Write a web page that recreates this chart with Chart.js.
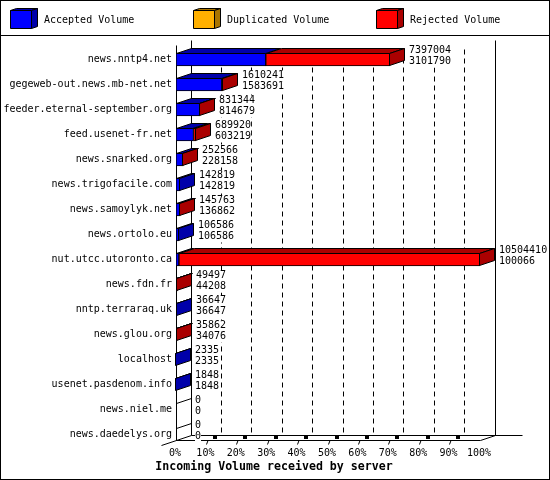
<!DOCTYPE html>
<html>
<head>
<meta charset="utf-8">
<title>Incoming Volume</title>
<script src="https://cdn.jsdelivr.net/npm/chart.js@4/dist/chart.umd.js"></script>
<style>
  html, body { margin: 0; padding: 0; background: #fff; }
  canvas { display: block; }
</style>
</head>
<body>
<canvas id="volumeChart" width="550" height="480"></canvas>
<script>
const servers = ['news.nntp4.net', 'gegeweb-out.news.mb-net.net', 'feeder.eternal-september.org', 'feed.usenet-fr.net',
    'news.snarked.org', 'news.trigofacile.com', 'news.samoylyk.net', 'news.ortolo.eu', 'nut.utcc.utoronto.ca',
    'news.fdn.fr', 'nntp.terraraq.uk', 'news.glou.org', 'localhost', 'usenet.pasdenom.info', 'news.niel.me', 'news.daedelys.org'];
const totalVolume = [7397004, 1610241, 831344, 689920, 252566, 142819, 145763, 106586, 10504410, 49497, 36647, 35862, 2335, 1848, 0, 0];
const acceptedVolume = [3101790, 1583691, 814679, 603219, 228158, 142819, 136862, 106586, 100066, 44208, 36647, 34076, 2335, 1848, 0, 0];
const duplicatedVolume = [0, 0, 0, 0, 0, 0, 0, 0, 0, 0, 0, 0, 0, 0, 0, 0];
const rejectedVolume = [4295214, 26550, 16665, 86701, 24408, 0, 8901, 0, 10404344, 5289, 0, 1786, 0, 0, 0, 0];
const xTickValues = [0, 1050441, 2100882, 3151323, 4201764, 5252205, 6302646, 7353087, 8403528, 9453969, 10504410];
const xTickLabels = ['0%', '10%', '20%', '30%', '40%', '50%', '60%', '70%', '80%', '90%', '100%'];
const legendX = [10, 193, 376];
const chartTitle = 'Incoming Volume received by server';

const DEPTH_X = 15;
const DEPTH_Y = 5;
const FLOOR_UP = 6.5; // the drawn floor sits a little above the last category band
const MONO = '"DejaVu Sans Mono", monospace';

function poly(ctx, pts, fill) {
    ctx.beginPath();
    pts.forEach((p, i) => i ? ctx.lineTo(p[0], p[1]) : ctx.moveTo(p[0], p[1]));
    ctx.closePath();
    if (fill) { ctx.fillStyle = fill; ctx.fill(); }
    ctx.stroke();
}

function line(ctx, x1, y1, x2, y2) {
    ctx.beginPath();
    ctx.moveTo(x1, y1);
    ctx.lineTo(x2, y2);
    ctx.stroke();
}

const frame3d = {
    id: 'frame3d',
    beforeDatasetsDraw(chart) {
        const ctx = chart.ctx;
        const area = chart.chartArea;
        const xs = chart.scales.x;
        const floor = area.bottom - FLOOR_UP;
        const top = area.top - FLOOR_UP;
        ctx.save();
        ctx.strokeStyle = '#000';
        ctx.lineWidth = 1;

        // dashed back wall grid
        ctx.setLineDash([5, 4]);
        xTickValues.slice(1, -1).forEach(v => {
            const x = Math.floor(xs.getPixelForValue(v)) + DEPTH_X + 0.5;
            line(ctx, x, top + 9, x, floor - DEPTH_Y);
        });
        ctx.setLineDash([]);

        // walls and floor
        const x0 = area.left + 0.5;
        const x1 = area.right + 0.5;
        line(ctx, x0, top + DEPTH_Y, x0, floor);
        line(ctx, x0 + DEPTH_X, top, x0 + DEPTH_X, floor - DEPTH_Y);
        line(ctx, x1 + DEPTH_X, top, x1 + DEPTH_X, floor - DEPTH_Y);
        line(ctx, x0, floor, x1, floor);
        line(ctx, x0 + DEPTH_X, floor - DEPTH_Y, x1 + DEPTH_X + 27, floor - DEPTH_Y);
        line(ctx, x0 - DEPTH_X, floor + DEPTH_Y, x0 + DEPTH_X, floor - DEPTH_Y);
        line(ctx, x1, floor, x1 + DEPTH_X, floor - DEPTH_Y);

        // floor ticks
        xTickValues.slice(1, -1).forEach(v => {
            const x = Math.floor(xs.getPixelForValue(v));
            line(ctx, x + 0.5, floor + 4, x + 2, floor);
            ctx.fillStyle = '#000';
            ctx.fillRect(x + 7, floor - 4.5, 4, 3);
        });
        ctx.restore();
    },
    afterDatasetsDraw(chart) {
        const ctx = chart.ctx;
        const metas = chart.getSortedVisibleDatasetMetas();
        ctx.save();
        ctx.strokeStyle = '#000';
        ctx.lineWidth = 1;
        servers.forEach((s, i) => {
            let endX = null, barTop = 0, barBottom = 0, sideColor = null;
            metas.forEach(meta => {
                const ds = chart.data.datasets[meta.index];
                const bar = meta.data[i];
                barTop = Math.round(bar.y - bar.height / 2) + 0.5;
                barBottom = Math.round(bar.y + bar.height / 2) - 0.5;
                if (!ds.data[i]) return;
                const xa = Math.round(bar.base) + 0.5;
                const xb = Math.round(bar.x) - 0.5;
                poly(ctx, [[xa, barTop], [xa + DEPTH_X, barTop - DEPTH_Y], [xb + DEPTH_X, barTop - DEPTH_Y], [xb, barTop]], ds.topColor);
                endX = xb; sideColor = ds.sideColor;
            });
            if (endX !== null) {
                poly(ctx, [[endX, barTop], [endX + DEPTH_X, barTop - DEPTH_Y], [endX + DEPTH_X, barBottom - DEPTH_Y], [endX, barBottom]], sideColor);
            } else {
                // empty server: only the edge of the flat bar shows on the wall
                const x = chart.chartArea.left + 0.5;
                line(ctx, x, barTop, x + DEPTH_X, barTop - DEPTH_Y);
            }
        });

        // value pairs right of each bar
        ctx.font = '10px ' + MONO;
        ctx.textBaseline = 'middle';
        ctx.textAlign = 'left';
        servers.forEach((s, i) => {
            const y = chart.scales.y.getPixelForValue(i);
            const x = Math.round(chart.scales.x.getPixelForValue(totalVolume[i])) + DEPTH_X + 4;
            [totalVolume[i], acceptedVolume[i]].forEach((v, k) => {
                const t = String(v);
                const ty = y + (k ? 2 : -9);
                ctx.fillStyle = '#fff';
                ctx.fillRect(x, ty - 5, ctx.measureText(t).width, 11);
                ctx.fillStyle = '#000';
                ctx.fillText(t, x, ty);
            });
        });

        // legend band
        chart.data.datasets.forEach((ds, i) => {
            const x = legendX[i];
            poly(ctx, [[x + 0.5, 10.5], [x + 6.5, 8.5], [x + 27.5, 8.5], [x + 21.5, 10.5]], ds.topColor);
            poly(ctx, [[x + 21.5, 10.5], [x + 27.5, 8.5], [x + 27.5, 26.5], [x + 21.5, 28.5]], ds.sideColor);
            poly(ctx, [[x + 0.5, 10.5], [x + 21.5, 10.5], [x + 21.5, 28.5], [x + 0.5, 28.5]], ds.backgroundColor);
            ctx.fillStyle = '#000';
            ctx.fillText(ds.label, x + 34, 20);
        });
        line(ctx, 0, 35.5, 550, 35.5);
        ctx.strokeRect(0.5, 0.5, 549, 479);

        ctx.font = 'bold 11.6px ' + MONO;
        ctx.textAlign = 'center';
        ctx.fillStyle = '#000';
        ctx.fillText(chartTitle, 274, 467);
        ctx.restore();
    }
};

new Chart(document.getElementById('volumeChart'), {
    type: 'bar',
    data: {
        labels: servers,
        datasets: [
            { label: 'Accepted Volume', data: acceptedVolume, backgroundColor: '#0000ff', topColor: '#0000aa', sideColor: '#0000aa', borderColor: '#000', borderWidth: 1, borderSkipped: false, barThickness: 13 },
            { label: 'Duplicated Volume', data: duplicatedVolume, hidden: true, backgroundColor: '#ffb000', topColor: '#aa7500', sideColor: '#aa7500', borderColor: '#000', borderWidth: 0, borderSkipped: false, barThickness: 13 },
            { label: 'Rejected Volume', data: rejectedVolume, backgroundColor: '#ff0000', topColor: '#aa0000', sideColor: '#aa0000', borderColor: '#000', borderWidth: 1, borderSkipped: false, barThickness: 13 }
        ]
    },
    options: {
        indexAxis: 'y',
        responsive: false,
        animation: false,
        devicePixelRatio: 1,
        layout: { padding: { top: 47, right: 70, bottom: 20, left: 0 } },
        plugins: {
            legend: { display: false },
            tooltip: { enabled: false },
            title: { display: false }
        },
        scales: {
            x: {
                stacked: true,
                min: 0,
                max: 10504410,
                afterBuildTicks: axis => { axis.ticks = xTickValues.map(v => ({ value: v })); },
                afterFit: axis => { axis.height = 13; },
                grid: { display: false, drawTicks: false },
                border: { display: false },
                ticks: {
                    autoSkip: false,
                    maxRotation: 0,
                    padding: 0,
                    labelOffset: -1,
                    color: '#000',
                    font: { family: MONO, size: 10 },
                    callback: (v, i) => xTickLabels[i]
                }
            },
            y: {
                stacked: true,
                afterFit: axis => { axis.width = 176; },
                grid: { display: false, drawTicks: false },
                border: { display: false },
                ticks: {
                    autoSkip: false,
                    padding: 4,
                    color: '#000',
                    font: { family: MONO, size: 10 }
                }
            }
        }
    },
    plugins: [frame3d]
});
</script>
</body>
</html>
